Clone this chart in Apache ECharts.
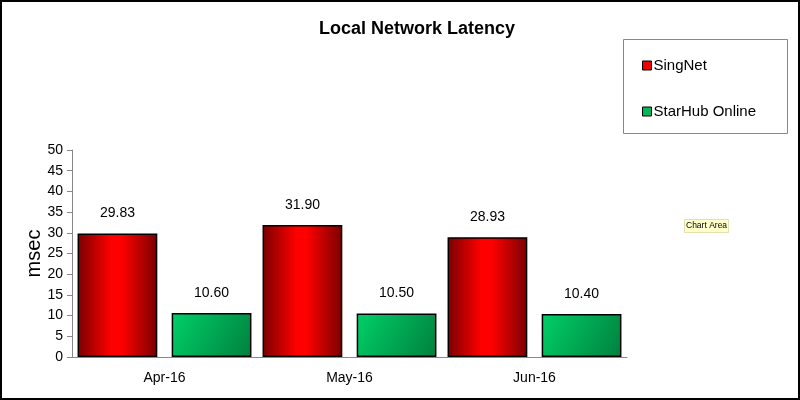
<!DOCTYPE html>
<html><head><meta charset="utf-8">
<script src="https://cdn.jsdelivr.net/npm/echarts@6/dist/echarts.min.js"></script>
<style>html,body{margin:0;padding:0;background:#fff}#c{width:800px;height:400px}#b{position:absolute;left:0;top:0;width:800px;height:400px;box-sizing:border-box;border:2px solid #000;pointer-events:none}</style>
</head><body><div id="c"></div><div id="b"></div>
<script>
const categories = ['Apr-16', 'May-16', 'Jun-16'];
const singNet = [29.83, 31.90, 28.93];
const starHub = [10.60, 10.50, 10.40];
const seriesNames = ['SingNet', 'StarHub Online'];
const titleText = 'Local Network Latency';
const yAxisName = 'msec';

const font = 'Liberation Sans, Arial, sans-serif';
const chart = echarts.init(document.getElementById('c'));
const redGrad = new echarts.graphic.LinearGradient(0, 0, 1, 0, [
  {offset: 0, color: '#7a0000'}, {offset: 0.42, color: '#ff0000'},
  {offset: 0.55, color: '#ff0000'}, {offset: 1, color: '#7a0000'}]);
const greenGrad = new echarts.graphic.LinearGradient(0, 0, 1, 1, [
  {offset: 0, color: '#00d068'}, {offset: 1, color: '#00803e'}]);
const labelStyle = {show: true, position: 'top', distance: 13, color: '#000', fontSize: 14, fontFamily: font,
  formatter: p => p.value.toFixed(2)};
chart.setOption({
  animation: false,
  title: {text: titleText, left: 412, top: 15, textAlign: 'center',
    textStyle: {fontFamily: font, fontSize: 18, fontWeight: 'bold', color: '#000'}},
  legend: {orient: 'vertical', left: 637, top: 53, itemWidth: 9, itemHeight: 9, itemGap: 31,
    textStyle: {fontFamily: font, fontSize: 15, color: '#000', padding: [0, 0, 0, -3]},
    data: [
      {name: seriesNames[0], icon: 'rect', itemStyle: {color: '#ee0000', borderColor: '#000', borderWidth: 1}},
      {name: seriesNames[1], icon: 'rect', itemStyle: {color: '#00b85a', borderColor: '#000', borderWidth: 1}}
    ]},
  grid: {left: 72, right: 173, top: 150, bottom: 43, containLabel: false},
  xAxis: {type: 'category', data: categories,
    axisLine: {lineStyle: {color: '#888', width: 1}},
    axisTick: {length: 4, lineStyle: {color: '#888'}},
    axisLabel: {fontFamily: font, fontSize: 14, color: '#000', margin: 14}},
  yAxis: {type: 'value', min: 0, max: 50, interval: 5,
    name: yAxisName, nameLocation: 'middle', nameGap: 28, nameRotate: 90, nameMoveOverlap: false,
    nameTextStyle: {fontFamily: font, fontSize: 20, color: '#000'},
    splitLine: {show: false},
    axisLine: {show: true, lineStyle: {color: '#888', width: 1}},
    axisTick: {show: true, length: 5, lineStyle: {color: '#888'}},
    axisLabel: {fontFamily: font, fontSize: 14, color: '#000', margin: 9}},
  series: [
    {name: seriesNames[0], type: 'bar', data: singNet, barCategoryGap: '6%', barGap: '18%',
     itemStyle: {color: redGrad, borderColor: '#000', borderWidth: 1.5}, label: labelStyle},
    {name: seriesNames[1], type: 'bar', data: starHub,
     itemStyle: {color: greenGrad, borderColor: '#000', borderWidth: 1.5}, label: labelStyle}
  ],
  graphic: [
    {type: 'rect', left: 621, top: 37, shape: {width: 164, height: 94},
     style: {fill: 'none', stroke: '#888', lineWidth: 1}},
    {type: 'rect', left: 684, top: 219, shape: {width: 44, height: 13},
     style: {fill: '#ffffcc', stroke: '#e0e0b0', lineWidth: 1}},
    {type: 'text', left: 686, top: 221,
     style: {text: 'Chart Area', fontFamily: font, fontSize: 8.5, fill: '#000'}}
  ]
});
</script></body></html>
